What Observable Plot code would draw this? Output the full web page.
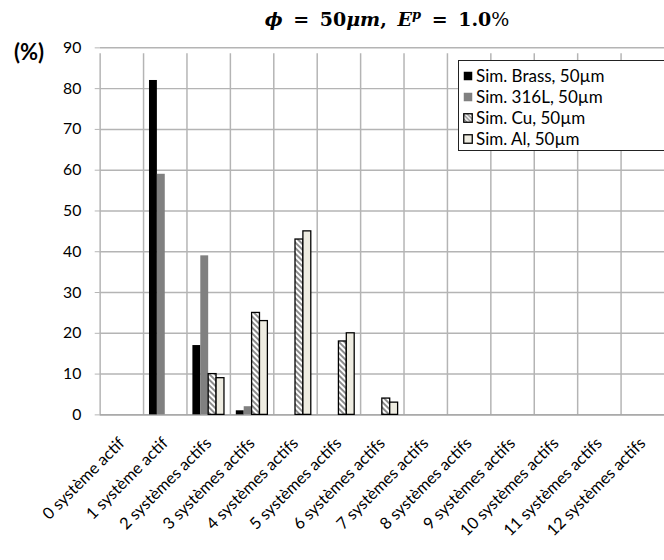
<!DOCTYPE html>
<html>
<head>
<meta charset="utf-8">
<script src="https://cdn.jsdelivr.net/npm/d3@7"></script>
<script src="https://cdn.jsdelivr.net/npm/@observablehq/plot@0.6"></script>
<style>
  html, body { margin: 0; padding: 0; background: #fff; }
  #wrap { position: relative; width: 664px; height: 560px; overflow: hidden; font-family: Lato, "Open Sans", sans-serif; }
  #title { position: absolute; left: 101px; width: 572px; top: 7px; text-align: center; font-family: "DejaVu Serif", serif; font-weight: bold; font-size: 19px; word-spacing: 4px; color: #000; }
  #title i { font-style: italic; }
  #title .pct { font-weight: normal; }
  #ylab { position: absolute; left: 14px; top: 38px; font-weight: bold; font-size: 22px; font-family: Lato, sans-serif; }
  #legend { position: absolute; left: 458px; top: 60px; width: 230px; height: 91px; background: #fff; border: 1.5px solid #222; box-sizing: border-box; padding-top: 4px; }
  .row { display: flex; align-items: center; height: 21px; font-size: 17px; font-family: Lato, sans-serif; }
  .row svg { margin-left: 4px; margin-right: 3px; }
</style>
</head>
<body>
<div id="wrap">
  <div id="chart"></div>
  <div id="title"><i>ϕ</i> = 50<i>μm</i>, <i>E<sup style="font-size:13px">p</sup></i> = 1.0<span class="pct">%</span></div>
  <div id="ylab">(%)</div>
  <div id="legend"></div>
</div>
<script>
const categories = ["0 système actif","1 système actif","2 systèmes actifs","3 systèmes actifs","4 systèmes actifs","5 systèmes actifs","6 systèmes actifs","7 systèmes actifs","8 systèmes actifs","9 systèmes actifs","10 systèmes actifs","11 systèmes actifs","12 systèmes actifs"];
const seriesNames = ["Sim. Brass, 50µm","Sim. 316L, 50µm","Sim. Cu, 50µm","Sim. Al, 50µm"];
const brass = [0,82,17,1,0,0,0,0,0,0,0,0,0];
const s316L = [0,59,39,2,0,0,0,0,0,0,0,0,0];
const cu    = [0,0,10,25,43,18,4,0,0,0,0,0,0];
const al    = [0,0,9,23,45,20,3,0,0,0,0,0,0];
const yTicks = [0,10,20,30,40,50,60,70,80,90];

const seriesValues = [brass, s316L, cu, al];
const seriesStyle = [
  {fill: "#000000", stroke: "none"},
  {fill: "#808080", stroke: "none"},
  {fill: "url(#hatch)", stroke: "#000"},
  {fill: "#EEECE1", stroke: "#000"}
];
const offsets = [-12, -4, 4, 12];
const grid = "#b4b4b4";

function rows(k) {
  return categories.map((c, i) => ({cat: c, value: seriesValues[k][i]})).filter(d => d.value > 0);
}

const marks = [
  Plot.ruleY(yTicks, {y: d => d, stroke: grid, strokeWidth: 1.5}),
  Plot.ruleX(categories, {x: d => d, dx: -22, y1: 0, y2: 90, insetBottom: -6, stroke: grid, strokeWidth: 1.5}),
  Plot.ruleY([0], {stroke: "#a0a0a0", strokeWidth: 1.5}),
  Plot.axisY({ticks: yTicks, tickSize: 5, tickPadding: 14, stroke: grid, fill: "#000", fontSize: 16, tickFormat: d => d, label: null}),
  Plot.axisX({tickSize: 0, tickRotate: -45, tickPadding: 10, dy: 16, dx: 0, fontSize: 16.5, fill: "#000", label: null})
];
seriesValues.forEach((s, k) => {
  marks.push(Plot.barY(rows(k), {x: "cat", y: "value", dx: offsets[k], insetLeft: 18, insetRight: 18,
    fill: seriesStyle[k].fill, stroke: seriesStyle[k].stroke, strokeWidth: 1.3}));
});

const chart = Plot.plot({
  width: 673, height: 560,
  marginLeft: 101, marginRight: 0, marginTop: 48, marginBottom: 140,
  style: {fontFamily: "Lato, 'Open Sans', sans-serif", color: "#000", background: "#fff", overflow: "visible"},
  x: {type: "band", domain: categories, padding: 0, axis: null},
  y: {domain: [0, 90], axis: null},
  marks
});

const defs = d3.select(chart).insert("defs", ":first-child");
const pat = defs.append("pattern").attr("id", "hatch").attr("patternUnits", "userSpaceOnUse")
  .attr("width", 4).attr("height", 4).attr("patternTransform", "rotate(45)");
pat.append("rect").attr("width", 4).attr("height", 4).attr("fill", "#fff");
pat.append("rect").attr("width", 4).attr("height", 2).attr("fill", "#8c8c8c");
document.getElementById("chart").appendChild(chart);

const legend = d3.select("#legend");
seriesNames.forEach((name, k) => {
  const row = legend.append("div").attr("class", "row");
  const sv = row.append("svg").attr("width", 10).attr("height", 10);
  if (k === 2) {
    const p = sv.append("defs").append("pattern").attr("id", "hatchL").attr("patternUnits", "userSpaceOnUse")
      .attr("width", 3).attr("height", 3).attr("patternTransform", "rotate(45)");
    p.append("rect").attr("width", 3).attr("height", 3).attr("fill", "#fff");
    p.append("rect").attr("width", 3).attr("height", 1.5).attr("fill", "#8c8c8c");
  }
  sv.append("rect").attr("x", 0.75).attr("y", 0.75).attr("width", 8.5).attr("height", 8.5)
    .attr("fill", k === 2 ? "url(#hatchL)" : seriesStyle[k].fill)
    .attr("stroke", seriesStyle[k].stroke).attr("stroke-width", 1.3);
  row.append("span").text(name);
});
</script>
</body>
</html>
